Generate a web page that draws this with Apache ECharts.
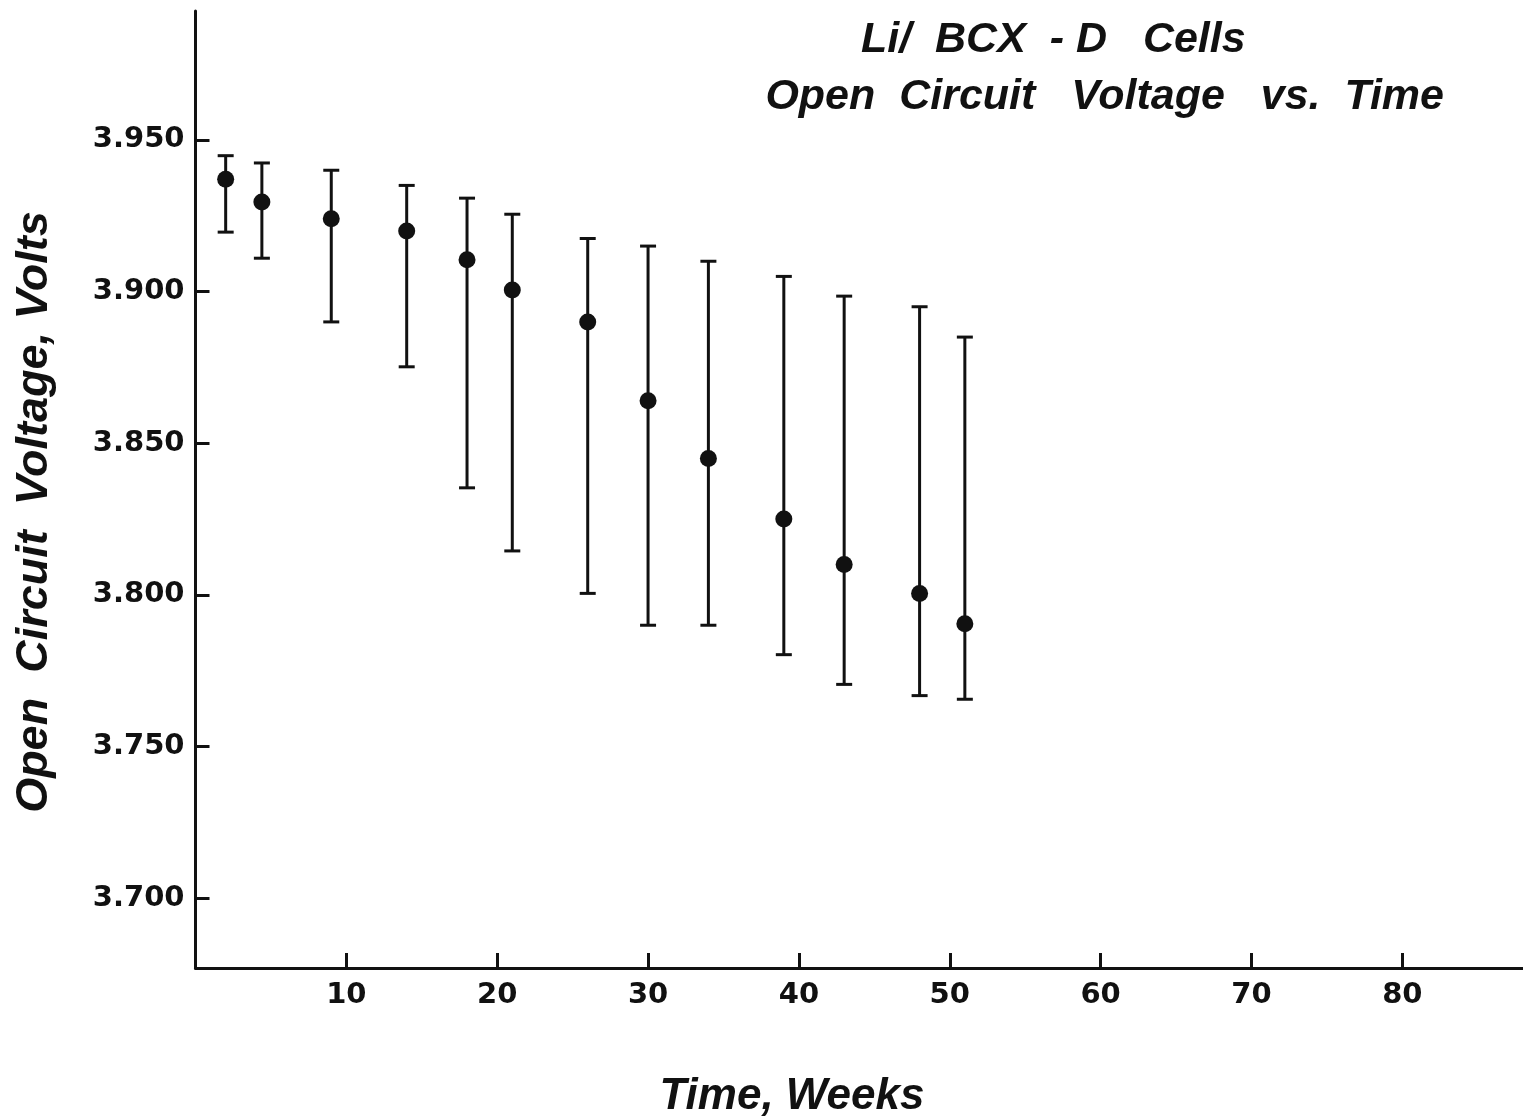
<!DOCTYPE html>
<html>
<head>
<meta charset="utf-8">
<script src="https://cdn.jsdelivr.net/npm/echarts@6/dist/echarts.min.js"></script>
<style>
html,body{margin:0;padding:0;background:#fff;}
#chart{width:1523px;height:1119px;}
</style>
</head>
<body>
<div id="chart"></div>
<script>
// ---- data ----
var weeks   = [2, 4.4, 9, 14, 18, 21, 26, 30, 34, 39, 43, 48, 51];
var voltage = [3.937, 3.9295, 3.924, 3.920, 3.9105, 3.9005, 3.890, 3.864, 3.845, 3.825, 3.810, 3.8005, 3.7905];
var upper   = [3.9448, 3.9424, 3.940, 3.935, 3.9308, 3.9255, 3.9175, 3.915, 3.910, 3.905, 3.8985, 3.895, 3.885];
var lower   = [3.9196, 3.911, 3.890, 3.8752, 3.8353, 3.8145, 3.8005, 3.790, 3.790, 3.7803, 3.7705, 3.7668, 3.7656];
var xTicks  = [10, 20, 30, 40, 50, 60, 70, 80];
var yTicks  = [3.700, 3.750, 3.800, 3.850, 3.900, 3.950];

var INK = '#111';
var labelFont = 'DejaVu Sans';
var titleFont = '"Liberation Sans", Arial, sans-serif';

var chart = echarts.init(document.getElementById('chart'), null, {renderer: 'canvas'});

function ln(x1, y1, x2, y2) {
  return {type: 'line', shape: {x1: x1, y1: y1, x2: x2, y2: y2},
          style: {stroke: INK, lineWidth: 3}};
}

var option = {
  backgroundColor: '#fff',
  animation: false,
  grid: {left: 195.5, right: 0, top: 11, bottom: 151},
  xAxis: {
    type: 'value', min: 0, max: 88,
    axisLine: {onZero: false, lineStyle: {color: INK, width: 3}},
    axisTick: {inside: true, length: 15, customValues: xTicks, lineStyle: {color: INK, width: 3}},
    axisLabel: {customValues: xTicks, color: INK, fontFamily: labelFont, fontWeight: 'bold', fontSize: 29, margin: 13},
    splitLine: {show: false}
  },
  yAxis: {
    type: 'value', min: 3.677, max: 3.9925,
    axisLine: {onZero: false, lineStyle: {color: INK, width: 3}},
    axisTick: {inside: true, length: 14, customValues: yTicks, lineStyle: {color: INK, width: 3}},
    axisLabel: {customValues: yTicks, color: INK, fontFamily: labelFont, fontWeight: 'bold', fontSize: 29, margin: 11,
                formatter: function (v) { return v.toFixed(3); }},
    splitLine: {show: false}
  },
  graphic: [
    {type: 'text', x: 861, y: 40.5, style: {text: 'Li/  BCX  - D   Cells', fill: INK,
      font: 'italic bold 43px ' + titleFont, textAlign: 'left', textVerticalAlign: 'middle'}},
    {type: 'text', x: 1444, y: 97.5, style: {text: 'Open  Circuit   Voltage   vs.  Time', fill: INK,
      font: 'italic bold 43px ' + titleFont, textAlign: 'right', textVerticalAlign: 'middle'}},
    {type: 'text', x: 792, y: 1097, style: {text: 'Time, Weeks', fill: INK,
      font: 'italic bold 44px ' + titleFont, textAlign: 'center', textVerticalAlign: 'middle'}},
    {type: 'text', x: 35, y: 512, rotation: Math.PI / 2, style: {text: 'Open  Circuit  Voltage, Volts', fill: INK,
      font: 'italic bold 45px ' + titleFont, textAlign: 'center', textVerticalAlign: 'middle'}}
  ],
  series: [
    {
      type: 'custom',
      data: weeks.map(function (w, i) { return [w, lower[i], upper[i]]; }),
      encode: {x: 0, y: [1, 2]},
      renderItem: function (params, api) {
        var x = api.value(0);
        var pLo = api.coord([x, api.value(1)]);
        var pHi = api.coord([x, api.value(2)]);
        var hw = 8;
        return {type: 'group', children: [
          ln(pHi[0], pHi[1], pLo[0], pLo[1]),
          ln(pHi[0] - hw, pHi[1], pHi[0] + hw, pHi[1]),
          ln(pLo[0] - hw, pLo[1], pLo[0] + hw, pLo[1])
        ]};
      },
      z: 2
    },
    {
      type: 'scatter',
      data: weeks.map(function (w, i) { return [w, voltage[i]]; }),
      symbol: 'circle', symbolSize: 17,
      itemStyle: {color: INK, opacity: 1},
      z: 3
    }
  ]
};
chart.setOption(option);
</script>
</body>
</html>
